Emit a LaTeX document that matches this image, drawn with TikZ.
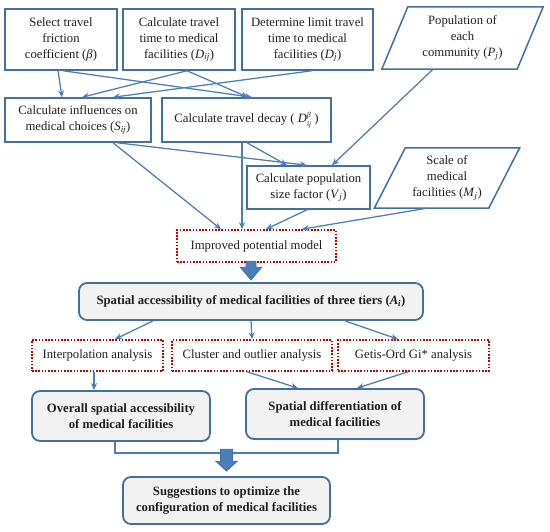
\documentclass[tikz,border=0pt]{standalone}
\usepackage{fontspec}
\setmainfont{Liberation Serif}
\usetikzlibrary{calc,arrows.meta}
\definecolor{bdr}{HTML}{41719C}
\definecolor{lnk}{HTML}{4A7EBB}
\definecolor{dred}{HTML}{C00000}
\definecolor{gfill}{HTML}{F2F2F2}
\definecolor{barrow}{HTML}{4A7EBB}
\newcommand{\iv}[2]{\textit{#1}\textsubscript{\textit{#2}}}
\newcommand{\dbeta}{\textit{D}\raisebox{-0.32em}{\fontsize{7.5}{7.5}\selectfont\shortstack[l]{\textit{β}\\\textit{ij}}}}
\begin{document}
\begin{tikzpicture}[x=1pt,y=-1pt,
 every node/.style={font=\fontsize{12.7}{16}\selectfont, text=black!88, align=center, inner sep=0pt},
 plainbox/.style={draw=bdr, line width=1.5pt, fill=white},
 pgram/.style={draw=bdr, line width=1.5pt},
 dotbox/.style={draw=dred, line width=1.6pt, dash pattern=on 1.6pt off 1.6pt},
 roundbox/.style={draw=bdr, line width=1.8pt, fill=gfill, rounded corners=8pt, font=\fontsize{12.7}{16.5}\selectfont\bfseries},
 link/.style={draw=lnk, line width=1.25pt, -{Stealth[length=7pt,width=6pt]}},
 bracket/.style={draw=lnk, line width=1.25pt},
 bigarrow/.style={fill=barrow, draw=bdr, line width=0.6pt},
]
\useasboundingbox (0,0) rectangle (550,532);

% top row
\node[plainbox, minimum width=112, minimum height=61] (b1) at (61,39.5) {Select travel\\friction\\coefficient (\textit{β})};
\node[plainbox, minimum width=112, minimum height=61] (b2) at (179,39.5) {Calculate travel\\time to medical\\facilities (\iv{D}{ij})};
\node[plainbox, minimum width=131, minimum height=61] (b3) at (307.5,39.5) {Determine limit travel\\time to medical\\facilities (\iv{D}{j})};
\node[minimum width=135, minimum height=62] (P) at (462.5,38) {Population of\\each\\community (\iv{P}{j})};
\draw[pgram] ($(P.north west)+(13,0)$) -- ($(P.north east)+(13,0)$) -- ($(P.south east)+(-13,0)$) -- ($(P.south west)+(-13,0)$) -- cycle;

% second row
\node[plainbox, minimum width=146, minimum height=44] (s1) at (78,120) {Calculate influences on\\medical choices (\iv{S}{ij})};
\node[plainbox, minimum width=169, minimum height=44] (s2) at (246.5,120) {Calculate travel decay ( \dbeta\ )};

% third row
\node[plainbox, minimum width=123, minimum height=43] (V) at (308.5,187.5) {Calculate population\\size factor (\iv{V}{j})};
\node[minimum width=114, minimum height=60] (M) at (447,178) {Scale of\\medical\\facilities (\iv{M}{j})};
\draw[pgram] ($(M.north west)+(15.5,0)$) -- ($(M.north east)+(15.5,0)$) -- ($(M.south east)+(-15.5,0)$) -- ($(M.south west)+(-15.5,0)$) -- cycle;

\node[dotbox, minimum width=159, minimum height=32] (IPM) at (256.5,246) {Improved potential model};

\node[roundbox, minimum width=344, minimum height=37] (A) at (251,301.5) {Spatial accessibility of medical facilities of three tiers (\textit{A}\textsubscript{\textit{i}})};

\node[dotbox, minimum width=131, minimum height=31] (I1) at (97.5,355.5) {Interpolation analysis};
\node[dotbox, minimum width=160, minimum height=31] (I2) at (252,355.5) {Cluster and outlier analysis};
\node[dotbox, minimum width=151, minimum height=31] (I3) at (413.5,355.5) {Getis-Ord Gi* analysis};

\node[roundbox, minimum width=178, minimum height=50] (O) at (121,416) {Overall spatial accessibility\\of medical facilities};
\node[roundbox, minimum width=178, minimum height=50] (SD) at (335,414) {Spatial differentiation of\\medical facilities};
\node[roundbox, minimum width=207, minimum height=47] (SG) at (226.5,500.5) {Suggestions to optimize the\\configuration of medical facilities};

% connectors
\draw[link] ($(b1.south)+(-3,0)$) -- ($(s1.north)+(-16,0)$);
\draw[link] ($(b1.south)+(2,0)$) -- ($(s2.north)+(5.5,0)$);
\draw[link] ($(b2.south)+(8,0)$) -- ($(s1.north)+(4,0)$);
\draw[link] ($(b2.south)+(8,0)$) -- ($(s2.north)+(1.5,0)$);
\draw[link] ($(b3.south)+(4.5,0)$) -- ($(s1.north)+(35,0)$);
\draw[link] ($(P.south)+(-29.5,0)$) -- ($(V.north)+(23.5,0)$);
\draw[link] ($(s1.south)+(35,0)$) -- ($(IPM.north)+(-35.5,0)$);
\draw[link] ($(s1.south)+(39,0)$) -- ($(V.north)+(-1.5,0)$);
\draw[link] ($(s2.south)+(0.5,0)$) -- ($(V.north)+(-21.5,0)$);
\draw[link] ($(s2.south)+(-4.5,0)$) -- ($(IPM.north)+(-14.5,0)$);
\draw[link] ($(V.south)+(-1.5,0)$) -- ($(IPM.north)+(9.5,0)$);
\draw[link] ($(M.south)+(-20,0)$) -- ($(IPM.north)+(45.5,0)$);

\draw[link] ($(A.south)+(-98,0)$) -- ($(I1.north)+(17.5,0)$);
\draw[link] (A.south) -- (I2.north);
\draw[link] ($(A.south)+(94,0)$) -- ($(I3.north)+(-15.5,0)$);
\draw[link] ($(I1.south)+(-3.5,0)$) -- ($(O.north)+(-27,0)$);
\draw[link] ($(I2.south)+(-5,0)$) -- ($(SD.north)+(-37,0)$);
\draw[link] ($(I3.south)+(-5.5,0)$) -- ($(SD.north)+(22,0)$);

\draw[bracket] ($(O.south)+(-6,0)$) -- ++(0,11) -| ($(SD.south)+(3,0)$);

% block arrows
\coordinate (T1) at ($(A.north)+(0,-2)$);
\draw[bigarrow] (T1) -- ++(-11,-13) -- ++(6,0) -- ++(0,-6) -- ++(10,0) -- ++(0,6) -- ++(6,0) -- cycle;
\coordinate (T2) at ($(SG.north)+(0,-5)$);
\draw[bigarrow] (T2) -- ++(-11,-10) -- ++(5,0) -- ++(0,-12) -- ++(12,0) -- ++(0,12) -- ++(5,0) -- cycle;
\end{tikzpicture}
\end{document}
